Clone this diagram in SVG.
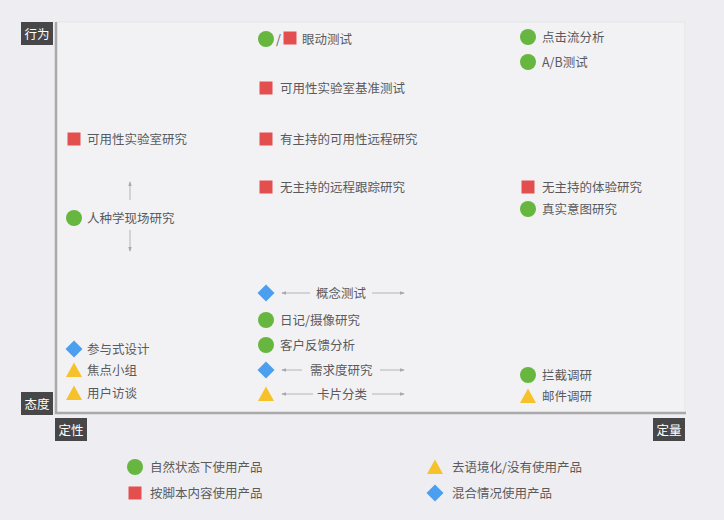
<svg xmlns="http://www.w3.org/2000/svg" width="724" height="520" viewBox="0 0 724 520">
<style>
text{font-family:"Noto Sans CJK SC","Liberation Sans",sans-serif;font-size:12.5px;fill:#5a5a5c;dominant-baseline:central}
.lbl{fill:#fff;text-anchor:middle}
.box{fill:#47474a}
.g{fill:#67b63f}
.r{fill:#e34f4f}
.b{fill:#4a9ff0}
.y{fill:#f5c22b}
.ax{stroke:#a9a9ab;stroke-width:2.5;fill:none}
.ar{stroke:#b4b4b8;stroke-width:1;fill:none;marker-end:url(#ah)}
</style>
<defs>
<marker id="ah" viewBox="0 0 6 6" refX="5" refY="3" markerWidth="5" markerHeight="5" orient="auto">
<path d="M0,0.8 L6,3 L0,5.2 Z" fill="#a8a8ac"/>
</marker>
<circle id="c" r="8"/>
<rect id="s" x="-6.5" y="-6.5" width="13" height="13"/>
<path id="d" d="M0,-8.5 L8.5,0 L0,8.5 L-8.5,0 Z"/>
<path id="t" d="M0,-7.5 L8,7 L-8,7 Z"/>
</defs>
<rect width="724" height="520" fill="#eeeef2"/>
<rect x="56" y="22" width="629" height="391" fill="#f2f2f5" stroke="#e6e6ea" stroke-width="1"/>
<g id="axes">
<path class="ax" d="M56,22 V413 H686"/>
</g>
<g id="label-behavior"><rect class="box" x="21" y="22" width="32" height="23"/><text class="lbl" x="37" y="33">行为</text></g>
<g id="label-attitude"><rect class="box" x="21" y="392" width="32" height="23"/><text class="lbl" x="37" y="403">态度</text></g>
<g id="label-qual"><rect class="box" x="55" y="418" width="32" height="23"/><text class="lbl" x="71" y="429">定性</text></g>
<g id="label-quant"><rect class="box" x="653" y="418" width="32" height="23"/><text class="lbl" x="669" y="429">定量</text></g>

<g id="connectors">
<line class="ar" x1="130" y1="200" x2="130" y2="182"/>
<line class="ar" x1="130" y1="230" x2="130" y2="251"/>
<line class="ar" x1="310" y1="293" x2="282" y2="293"/>
<line class="ar" x1="372" y1="293" x2="404" y2="293"/>
<line class="ar" x1="302" y1="370" x2="282" y2="370"/>
<line class="ar" x1="380" y1="370" x2="404" y2="370"/>
<line class="ar" x1="313" y1="394" x2="282" y2="394"/>
<line class="ar" x1="372" y1="394" x2="404" y2="394"/>
</g>

<g id="n-eyetrack"><use href="#c" class="g" x="266" y="39"/><text x="276" y="38">/</text><use href="#s" class="r" x="290" y="38"/><text x="302" y="38">眼动测试</text></g>
<g id="n-labbench"><use href="#s" class="r" x="266" y="88"/><text x="280" y="87">可用性实验室基准测试</text></g>
<g id="n-modremote"><use href="#s" class="r" x="266" y="139"/><text x="280" y="138">有主持的可用性远程研究</text></g>
<g id="n-unmodremote"><use href="#s" class="r" x="266" y="187"/><text x="280" y="186">无主持的远程跟踪研究</text></g>
<g id="n-clickstream"><use href="#c" class="g" x="528" y="37"/><text x="542" y="36">点击流分析</text></g>
<g id="n-ab"><use href="#c" class="g" x="528" y="62"/><text x="542" y="61">A/B测试</text></g>
<g id="n-unmodux"><use href="#s" class="r" x="528" y="187"/><text x="542" y="186">无主持的体验研究</text></g>
<g id="n-intent"><use href="#c" class="g" x="528" y="209"/><text x="542" y="208">真实意图研究</text></g>
<g id="n-lab"><use href="#s" class="r" x="74" y="139"/><text x="87" y="138">可用性实验室研究</text></g>
<g id="n-ethno"><use href="#c" class="g" x="74" y="218"/><text x="87" y="217">人种学现场研究</text></g>
<g id="n-concept"><use href="#d" class="b" x="266" y="293"/><text x="316" y="292">概念测试</text></g>
<g id="n-diary"><use href="#c" class="g" x="266" y="320"/><text x="280" y="319">日记/摄像研究</text></g>
<g id="n-feedback"><use href="#c" class="g" x="266" y="345"/><text x="280" y="344">客户反馈分析</text></g>
<g id="n-desire"><use href="#d" class="b" x="266" y="370"/><text x="310" y="369">需求度研究</text></g>
<g id="n-cardsort"><use href="#t" class="y" x="266" y="394"/><text x="317" y="393">卡片分类</text></g>
<g id="n-participatory"><use href="#d" class="b" x="74" y="349"/><text x="87" y="348">参与式设计</text></g>
<g id="n-focus"><use href="#t" class="y" x="74" y="370"/><text x="87" y="369">焦点小组</text></g>
<g id="n-interview"><use href="#t" class="y" x="74" y="393"/><text x="87" y="392">用户访谈</text></g>
<g id="n-intercept"><use href="#c" class="g" x="528" y="375"/><text x="542" y="374">拦截调研</text></g>
<g id="n-email"><use href="#t" class="y" x="528" y="396"/><text x="542" y="395">邮件调研</text></g>

<g id="legend-natural"><use href="#c" class="g" x="135" y="467"/><text x="150" y="466">自然状态下使用产品</text></g>
<g id="legend-scripted"><use href="#s" class="r" x="135" y="493"/><text x="150" y="492">按脚本内容使用产品</text></g>
<g id="legend-decontext"><use href="#t" class="y" x="435" y="467"/><text x="452" y="466">去语境化/没有使用产品</text></g>
<g id="legend-mixed"><use href="#d" class="b" x="435" y="493"/><text x="452" y="492">混合情况使用产品</text></g>
</svg>
